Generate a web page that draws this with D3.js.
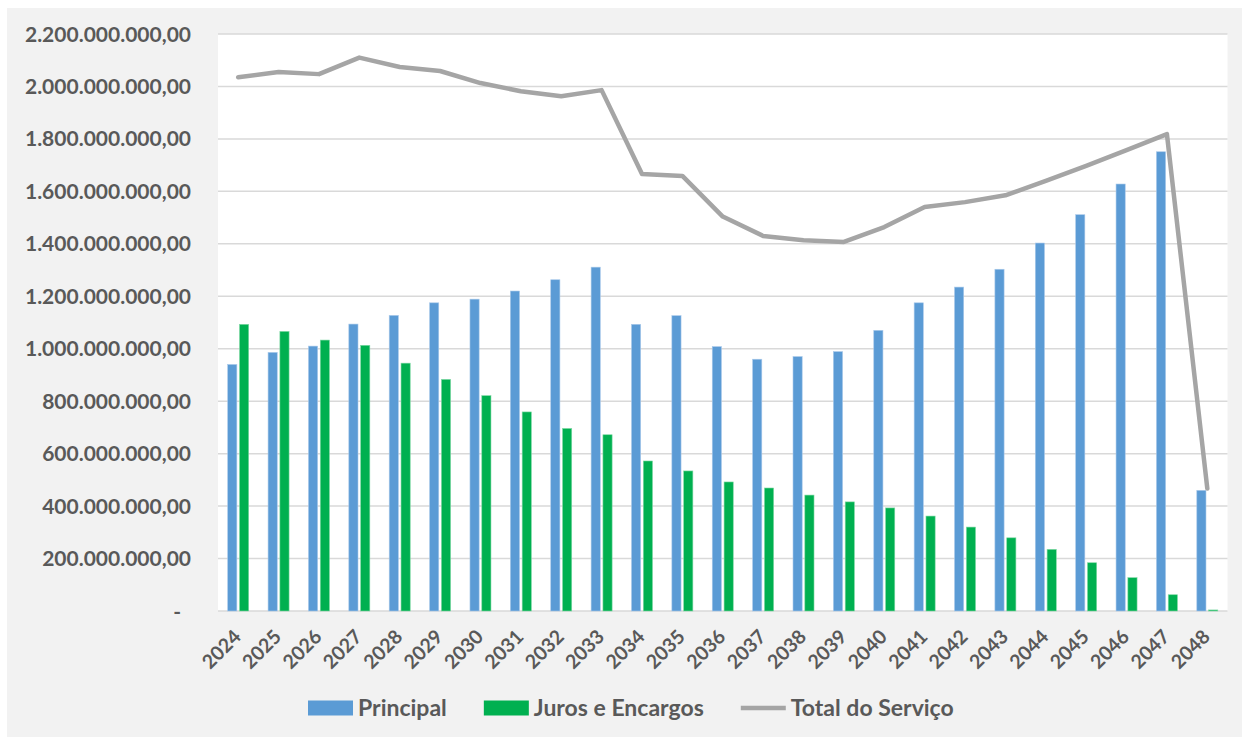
<!DOCTYPE html>
<html>
<head>
<meta charset="utf-8">
<script src="https://cdn.jsdelivr.net/npm/d3@7"></script>
<style>
  body { margin: 0; background: #fff; }
  text { font-family: Lato, "Liberation Sans", sans-serif; font-weight: bold; fill: #595959; }
</style>
</head>
<body>
<script>
// anos
var years = ["2024","2025","2026","2027","2028","2029","2030","2031","2032","2033","2034","2035",
             "2036","2037","2038","2039","2040","2041","2042","2043","2044","2045","2046","2047","2048"];

// valores em reais
var principal = [940e6, 986e6, 1010e6, 1094e6, 1127e6, 1175e6, 1189e6, 1220e6, 1263e6, 1311e6, 1093e6, 1126e6,
                 1008e6, 960e6, 970e6, 989e6, 1070e6, 1175e6, 1235e6, 1303e6, 1403e6, 1511e6, 1628e6, 1751e6, 460e6];
var juros = [1093e6, 1066e6, 1033e6, 1013e6, 945e6, 883e6, 821e6, 759e6, 696e6, 672e6, 572e6, 534e6,
             492e6, 469e6, 442e6, 416e6, 393e6, 362e6, 320e6, 279e6, 235e6, 184e6, 127e6, 62e6, 4e6];
var total = [2035e6, 2055e6, 2047e6, 2110e6, 2074e6, 2059e6, 2013e6, 1982e6, 1963e6, 1986e6, 1666e6, 1659e6,
             1504e6, 1430e6, 1414e6, 1407e6, 1464e6, 1540e6, 1559e6, 1585e6, 1640e6, 1697e6, 1757e6, 1818e6, 467e6];

var yTicks = [0, 200e6, 400e6, 600e6, 800e6, 1000e6, 1200e6, 1400e6, 1600e6, 1800e6, 2000e6, 2200e6];
var seriesNames = ["Principal", "Juros e Encargos", "Total do Serviço"];
var colors = ["#5b9bd5", "#00b050", "#a5a5a5"];

var width = 1242, height = 737;
var pLeft = 218, pRight = 1227.5, pTop = 34, pBottom = 611;

var svg = d3.select("body").append("svg")
    .attr("width", width)
    .attr("height", height);

// fundo cinza
svg.append("rect")
    .attr("x", 7).attr("y", 8)
    .attr("width", width - 7).attr("height", height - 8)
    .attr("fill", "#f2f2f2");

svg.append("rect")
    .attr("x", pLeft).attr("y", pTop)
    .attr("width", pRight - pLeft).attr("height", pBottom - pTop)
    .attr("fill", "#fff");

var x = d3.scaleBand().domain(years).range([pLeft, pRight]);
var x1 = d3.scaleBand().domain(["p", "j"])
    .range([x.bandwidth() * 0.24, x.bandwidth() * 0.76])
    .paddingInner(0.224);
var y = d3.scaleLinear().domain([0, 2200e6]).range([pBottom, pTop]);

var fmt = function(v) {
    if (v === 0) return "-";
    return v.toLocaleString("pt-BR", { minimumFractionDigits: 2, maximumFractionDigits: 2 });
};

// grade
svg.selectAll("line.grid")
    .data(yTicks)
    .enter()
    .append("line")
    .attr("x1", pLeft).attr("x2", pRight)
    .attr("y1", function(d) { return y(d); })
    .attr("y2", function(d) { return y(d); })
    .attr("stroke", "#d9d9d9")
    .attr("stroke-width", 1.5);

svg.selectAll("text.ylab")
    .data(yTicks)
    .enter()
    .append("text")
    .attr("x", function(d) { return d === 0 ? 181 : 191; })
    .attr("y", function(d) { return y(d); })
    .attr("dy", "0.36em")
    .attr("text-anchor", "end")
    .style("font-size", "21px")
    .text(fmt);

// barras
var g = svg.append("g");
g.selectAll("rect.p")
    .data(principal)
    .enter()
    .append("rect")
    .attr("x", function(d, i) { return x(years[i]) + x1("p"); })
    .attr("y", function(d) { return y(d); })
    .attr("width", x1.bandwidth())
    .attr("height", function(d) { return pBottom - y(d); })
    .attr("fill", colors[0])
    .attr("stroke", "#a9c9ea")
    .attr("stroke-width", 0.6);

g.selectAll("rect.j")
    .data(juros)
    .enter()
    .append("rect")
    .attr("x", function(d, i) { return x(years[i]) + x1("j"); })
    .attr("y", function(d) { return y(d); })
    .attr("width", x1.bandwidth())
    .attr("height", function(d) { return pBottom - y(d); })
    .attr("fill", colors[1])
    .attr("stroke", "#7fd8a4")
    .attr("stroke-width", 0.6);

// linha total
var line = d3.line()
    .x(function(d, i) { return x(years[i]) + x.bandwidth() / 2; })
    .y(function(d) { return y(d); });

svg.append("path")
    .datum(total)
    .attr("d", line)
    .attr("fill", "none")
    .attr("stroke", colors[2])
    .attr("stroke-width", 4.5)
    .attr("stroke-linejoin", "round")
    .attr("stroke-linecap", "round");

// rótulos do eixo x
svg.selectAll("text.xlab")
    .data(years)
    .enter()
    .append("text")
    .attr("transform", function(d) {
        return "translate(" + (x(d) + x.bandwidth() / 2 + 4) + ",638) rotate(-45)";
    })
    .attr("text-anchor", "end")
    .style("font-size", "19.5px")
    .text(function(d) { return d; });

// legenda
var legend = svg.append("g");
var lx = 308, ly = 708;
seriesNames.forEach(function(name, i) {
    if (i < 2) {
        legend.append("rect")
            .attr("x", lx).attr("y", ly - 7.5)
            .attr("width", 45).attr("height", 15)
            .attr("fill", colors[i]);
    } else {
        legend.append("line")
            .attr("x1", lx).attr("x2", lx + 45)
            .attr("y1", ly).attr("y2", ly)
            .attr("stroke", colors[i])
            .attr("stroke-width", 4.5);
    }
    var t = legend.append("text")
        .attr("x", lx + 50)
        .attr("y", ly)
        .attr("dy", "0.36em")
        .style("font-size", "23px")
        .text(name);
    lx = lx + 50 + t.node().getComputedTextLength() + 37;
});
</script>
</body>
</html>
